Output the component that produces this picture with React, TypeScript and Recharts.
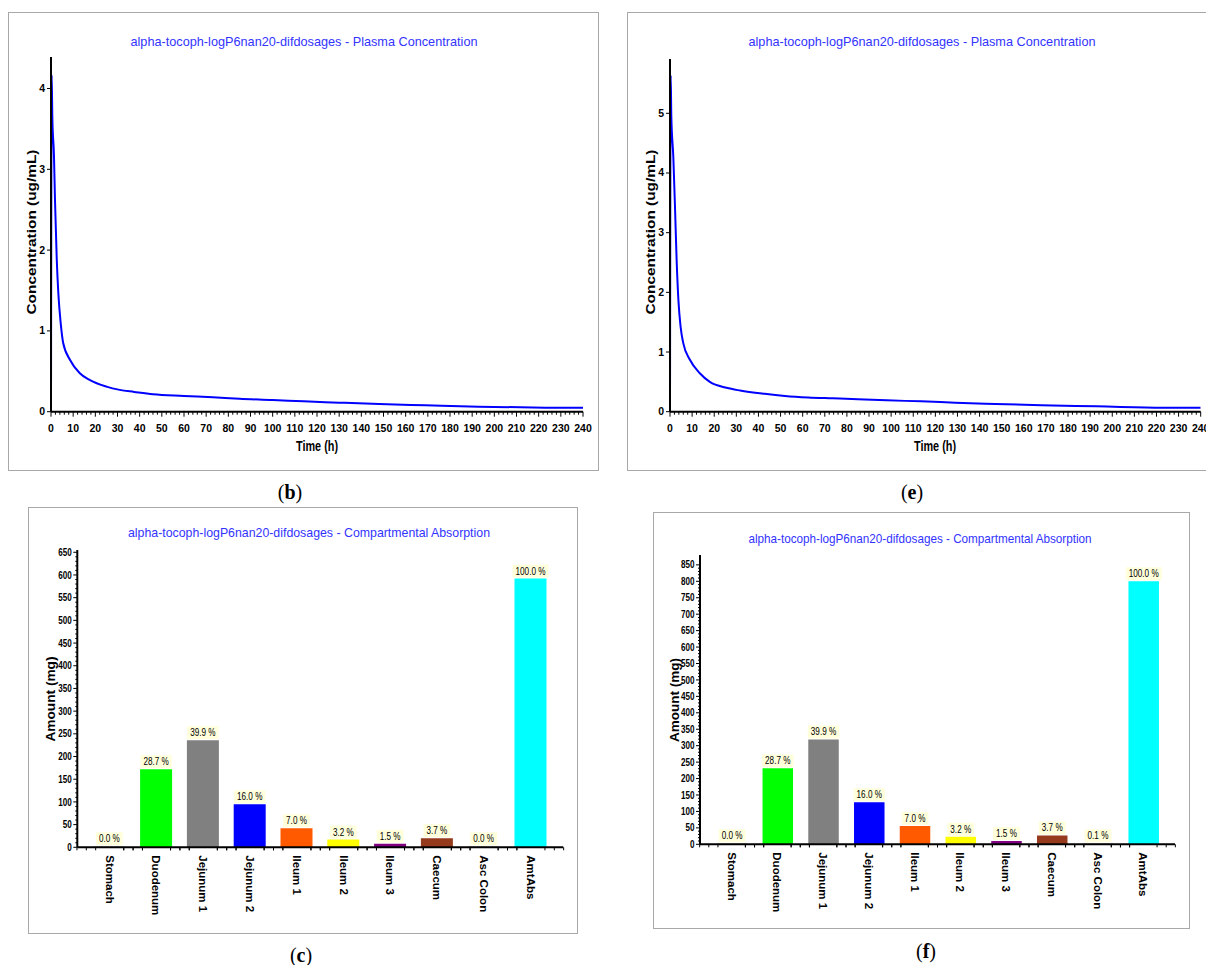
import React from 'react';
import { LineChart, Line, XAxis, YAxis, BarChart, Bar, Cell, LabelList } from 'recharts';

const FONT = '"Liberation Sans", Arial, Helvetica, sans-serif';
const SERIF = '"Liberation Serif", "DejaVu Serif", serif';

// ---------- Plasma concentration (b) ----------
const TIME_B = [0, 0.3, 0.6, 1.35, 1.8, 2.6, 3.3, 4.4, 5.5, 8.6, 13, 17.6, 25, 31, 37.5, 46, 60, 73, 85, 100, 114, 130, 148, 169, 193, 223, 240];
const CONC_B = [0, 4.17, 3.65, 3.16, 2.62, 1.88, 1.47, 1.09, 0.85, 0.64, 0.475, 0.39, 0.31, 0.27, 0.245, 0.215, 0.195, 0.178, 0.16, 0.145, 0.128, 0.112, 0.095, 0.079, 0.062, 0.05, 0.048];

// ---------- Plasma concentration (e) ----------
const TIME_E = [0, 0.3, 0.6, 1.5, 2.3, 3.0, 3.8, 4.8, 6, 9, 13.6, 18, 25.6, 31.7, 42.8, 52, 62.5, 73.5, 85, 98, 113.6, 129, 147, 168, 193, 223, 240];
const CONC_E = [0, 5.64, 4.94, 4.27, 3.38, 2.54, 1.87, 1.42, 1.15, 0.87, 0.64, 0.50, 0.40, 0.355, 0.30, 0.265, 0.24, 0.225, 0.21, 0.19, 0.174, 0.152, 0.13, 0.107, 0.09, 0.067, 0.065];

const TIME_MAJOR_TICKS = [0, 10, 20, 30, 40, 50, 60, 70, 80, 90, 100, 110, 120, 130, 140, 150, 160, 170, 180, 190, 200, 210, 220, 230, 240];
const TIME_MINOR_STEP = 2;
const CONC_TICKS_B = [0, 1, 2, 3, 4];
const CONC_TICKS_E = [0, 1, 2, 3, 4, 5];

// ---------- Compartmental absorption (c, f) ----------
const CATEGORIES = ['Stomach', 'Duodenum', 'Jejunum 1', 'Jejunum 2', 'Ileum 1', 'Ileum 2', 'Ileum 3', 'Caecum', 'Asc Colon', 'AmtAbs'];
const AMOUNT_C = [0, 172, 236, 95, 42, 17, 8, 20, 0, 592];
const PCT_C = ['0.0 %', '28.7 %', '39.9 %', '16.0 %', '7.0 %', '3.2 %', '1.5 %', '3.7 %', '0.0 %', '100.0 %'];
const AMOUNT_F = [0, 231, 319, 128, 56, 23, 10, 27, 1, 800];
const PCT_F = ['0.0 %', '28.7 %', '39.9 %', '16.0 %', '7.0 %', '3.2 %', '1.5 %', '3.7 %', '0.1 %', '100.0 %'];
const BAR_COLORS = ['#c0c0c0', '#00ff00', '#808080', '#0000ff', '#ff5a00', '#ffff00', '#800080', '#963a1e', '#c0c0c0', '#00ffff'];
const AMOUNT_MAJOR_STEP = 50;
const AMOUNT_MINOR_STEP = 10;

const TITLE_PLASMA = 'alpha-tocoph-logP6nan20-difdosages - Plasma Concentration';
const TITLE_ABS = 'alpha-tocoph-logP6nan20-difdosages - Compartmental Absorption';

const range = (max: number, step: number) => {
  const out: number[] = [];
  for (let v = 0; v <= max + 1e-9; v += step) out.push(Math.round(v * 100) / 100);
  return out;
};

const TimeTick = (props: any) => {
  const { x, y, payload } = props;
  const v = payload.value;
  const major = TIME_MAJOR_TICKS.includes(v);
  return (
    <g>
      <line x1={x} x2={x} y1={y} y2={y + (major ? 5 : 3)} stroke="#000" strokeWidth={1} />
      {major && (
        <text x={x} y={y + 20} textAnchor="middle" fontSize={10.5} fontWeight="bold" fontFamily={FONT} fill="#000">
          {v}
        </text>
      )}
    </g>
  );
};

const ConcTick = (props: any) => {
  const { x, y, payload } = props;
  return (
    <g>
      <line x1={x - 4} x2={x} y1={y} y2={y} stroke="#000" strokeWidth={1} />
      <text x={x - 6} y={y + 3.5} textAnchor="end" fontSize={10.5} fontWeight="bold" fontFamily={FONT} fill="#000">
        {payload.value}
      </text>
    </g>
  );
};

type PlasmaProps = {
  left: number; top: number; width: number; height: number;
  plotLeft: number; plotRight: number; plotTop: number; plotBottom: number;
  yMax: number; yTicks: number[]; times: number[]; conc: number[];
};

const PlasmaChart = (p: PlasmaProps) => {
  const data = p.times.map((t, i) => ({ t, c: p.conc[i] }));
  const ticks = range(240, TIME_MINOR_STEP);
  return (
    <div style={{ position: 'absolute', left: p.left, top: p.top, width: p.width, height: p.height }}>
      <LineChart
        width={p.width}
        height={p.height}
        data={data}
        margin={{ top: p.plotTop - p.top, right: p.left + p.width - p.plotRight, left: 0, bottom: 0 }}
      >
        <XAxis
          dataKey="t"
          type="number"
          domain={[0, 240]}
          ticks={ticks}
          interval={0}
          height={p.top + p.height - p.plotBottom}
          tickSize={0}
          tickMargin={0}
          tickLine={false}
          tick={<TimeTick />}
          axisLine={{ stroke: '#000', strokeWidth: 2 }}
          allowDataOverflow
        />
        <YAxis
          type="number"
          domain={[0, p.yMax]}
          ticks={p.yTicks}
          interval={0}
          width={p.plotLeft - p.left}
          tickSize={0}
          tickMargin={0}
          tickLine={false}
          tick={<ConcTick />}
          axisLine={{ stroke: '#000', strokeWidth: 2 }}
          allowDataOverflow
        />
        <Line type="monotone" dataKey="c" stroke="#0000ff" strokeWidth={2} dot={false} isAnimationActive={false} />
      </LineChart>
    </div>
  );
};

const labelTextWidth = (s: string) => {
  let w = 0;
  for (const ch of s) {
    if (ch >= '0' && ch <= '9') w += 4.6;
    else if (ch === '%') w += 7;
    else w += 2.3;
  }
  return w;
};

const PctLabel = (props: any) => {
  const { x, y, width, height, value } = props;
  const s = String(value);
  const tw = labelTextWidth(s);
  const bw = tw + 6;
  const cx = x + width / 2;
  const top = Math.min(y, y + height);
  const bottom = top - 1;
  return (
    <g>
      <rect x={cx - bw / 2} y={bottom - 13} width={bw} height={13} fill="#ffffdc" />
      <text
        x={cx}
        y={bottom - 3}
        textAnchor="middle"
        fontSize={11}
        fontFamily={FONT}
        fill="#000"
        textLength={tw}
        lengthAdjust="spacingAndGlyphs"
      >
        {s}
      </text>
    </g>
  );
};

const makeCatTick = (band: number) => (props: any) => {
  const { x, y, payload } = props;
  const offs = [-0.7, -0.5, -0.3, 0.3, 0.5, 0.7];
  return (
    <g>
      {offs.map((o) => (
        <line key={o} x1={x + o * band} x2={x + o * band} y1={y} y2={y + 3} stroke="#000" strokeWidth={1} />
      ))}
      <text
        x={x}
        y={y + 8}
        dy="0.35em"
        transform={`rotate(90, ${x}, ${y + 8})`}
        textAnchor="start"
        fontSize={11.5}
        fontWeight="bold"
        fontFamily={FONT}
        fill="#000"
      >
        {payload.value}
      </text>
    </g>
  );
};

const AmountTick = (props: any) => {
  const { x, y, payload } = props;
  const v = payload.value;
  const major = Math.abs(v % AMOUNT_MAJOR_STEP) < 1e-6;
  const s = String(v);
  return (
    <g>
      <line x1={x - (major ? 4 : 2)} x2={x} y1={y} y2={y} stroke="#000" strokeWidth={1} />
      {major && (
        <text
          x={x - 5.5}
          y={y + 3.6}
          textAnchor="end"
          fontSize={10.5}
          fontWeight="bold"
          fontFamily={FONT}
          fill="#000"
          textLength={s.length * 4.5}
          lengthAdjust="spacingAndGlyphs"
        >
          {s}
        </text>
      )}
    </g>
  );
};

type AbsProps = {
  left: number; top: number; width: number; height: number;
  plotLeft: number; plotRight: number; plotTop: number; plotBottom: number;
  yMax: number; yTickMax: number; amounts: number[]; pcts: string[]; pad: number; barSize: number;
};

const AbsChart = (p: AbsProps) => {
  const data = CATEGORIES.map((name, i) => ({ name, amount: p.amounts[i], pct: p.pcts[i] }));
  const band = (p.plotRight - p.plotLeft - 2 * p.pad) / CATEGORIES.length;
  const CatTick = makeCatTick(band);
  return (
    <div style={{ position: 'absolute', left: p.left, top: p.top, width: p.width, height: p.height }}>
      <BarChart
        width={p.width}
        height={p.height}
        data={data}
        margin={{ top: p.plotTop - p.top, right: p.left + p.width - p.plotRight, left: 0, bottom: 0 }}
      >
        <XAxis
          dataKey="name"
          type="category"
          interval={0}
          padding={{ left: p.pad, right: p.pad }}
          height={p.top + p.height - p.plotBottom}
          tickSize={0}
          tickMargin={0}
          tickLine={false}
          tick={<CatTick />}
          axisLine={false}
        />
        <YAxis
          type="number"
          domain={[0, p.yMax]}
          ticks={range(p.yTickMax, AMOUNT_MINOR_STEP)}
          interval={0}
          width={p.plotLeft - p.left}
          tickSize={0}
          tickMargin={0}
          tickLine={false}
          tick={<AmountTick />}
          axisLine={{ stroke: '#000', strokeWidth: 2 }}
          allowDataOverflow
        />
        <Bar dataKey="amount" barSize={p.barSize} minPointSize={1} isAnimationActive={false}>
          {data.map((d, i) => (
            <Cell key={d.name} fill={BAR_COLORS[i]} />
          ))}
          <LabelList dataKey="pct" content={<PctLabel />} />
        </Bar>
      </BarChart>
    </div>
  );
};

const Frame = ({ l, t, r, b }: { l: number; t: number; r: number; b: number }) => (
  <div
    style={{
      position: 'absolute',
      left: l,
      top: t,
      width: r - l,
      height: b - t,
      border: '1px solid #a8a8a8',
      boxSizing: 'border-box',
      background: '#fff',
    }}
  />
);

const Title = ({ x, y, len, text }: { x: number; y: number; len: number; text: string }) => (
  <text x={x} y={y} textAnchor="middle" fontSize={13} fontFamily={FONT} fill="#3333ff" textLength={len} lengthAdjust="spacingAndGlyphs">
    {text}
  </text>
);

const VLabel = ({ cx, cy, len, text, size }: { cx: number; cy: number; len: number; text: string; size: number }) => (
  <text
    x={cx}
    y={cy}
    dy="0.35em"
    transform={`rotate(-90, ${cx}, ${cy})`}
    textAnchor="middle"
    fontSize={size}
    fontWeight="bold"
    fontFamily={FONT}
    fill="#000"
    textLength={len}
    lengthAdjust="spacingAndGlyphs"
  >
    {text}
  </text>
);

const Caption = ({ x, y, letter }: { x: number; y: number; letter: string }) => (
  <text x={x} y={y} textAnchor="middle" fontSize={20} fontFamily={SERIF} fill="#000">
    (<tspan fontWeight="bold">{letter}</tspan>)
  </text>
);

// x-axis lines of the bar charts, drawn on top so that zero bars sit under them
const BAR_AXES = [
  { x1: 77.3, x2: 563.3, y: 847.3 },
  { x1: 700, x2: 1175, y: 844.3 },
];

export default function App() {
  return (
    <div style={{ position: 'absolute', left: 0, top: 0, width: 1206, height: 965, overflow: 'hidden', background: '#fff' }}>
      <Frame l={8} t={12} r={599} b={471} />
      <Frame l={627} t={12} r={1215} b={471} />
      <Frame l={28} t={507} r={578} b={934} />
      <Frame l={653} t={512} r={1190} b={929} />

      <PlasmaChart
        left={0} top={0} width={600} height={470}
        plotLeft={51} plotRight={583} plotTop={57} plotBottom={411.7}
        yMax={4.39} yTicks={CONC_TICKS_B} times={TIME_B} conc={CONC_B}
      />
      <PlasmaChart
        left={620} top={0} width={586} height={470}
        plotLeft={670} plotRight={1200.7} plotTop={59} plotBottom={411.7}
        yMax={5.91} yTicks={CONC_TICKS_E} times={TIME_E} conc={CONC_E}
      />
      <AbsChart
        left={28} top={507} width={550} height={427}
        plotLeft={77.3} plotRight={563.3} plotTop={550} plotBottom={847.3}
        yMax={655} yTickMax={650} amounts={AMOUNT_C} pcts={PCT_C} pad={9} barSize={32}
      />
      <AbsChart
        left={653} top={512} width={537} height={417}
        plotLeft={700} plotRight={1175} plotTop={555} plotBottom={844.3}
        yMax={880} yTickMax={850} amounts={AMOUNT_F} pcts={PCT_F} pad={8.8} barSize={30.5}
      />

      <svg width={1206} height={965} style={{ position: 'absolute', left: 0, top: 0, pointerEvents: 'none' }}>
        {BAR_AXES.map((a, i) => (
          <line key={i} x1={a.x1} x2={a.x2} y1={a.y} y2={a.y} stroke="#000" strokeWidth={2} />
        ))}
        <Title x={304} y={46} len={347} text={TITLE_PLASMA} />
        <Title x={922} y={46} len={347} text={TITLE_PLASMA} />
        <Title x={309} y={536.5} len={362} text={TITLE_ABS} />
        <Title x={920} y={542.5} len={343} text={TITLE_ABS} />

        <text x={317} y={451} textAnchor="middle" fontSize={14} fontWeight="bold" fontFamily={FONT} fill="#000" textLength={42} lengthAdjust="spacingAndGlyphs">Time (h)</text>
        <text x={935} y={451} textAnchor="middle" fontSize={14} fontWeight="bold" fontFamily={FONT} fill="#000" textLength={42} lengthAdjust="spacingAndGlyphs">Time (h)</text>

        <VLabel cx={32} cy={232} len={165} text="Concentration (ug/mL)" size={12} />
        <VLabel cx={651} cy={232} len={165} text="Concentration (ug/mL)" size={12} />
        <VLabel cx={50.7} cy={699} len={85} text="Amount (mg)" size={12.5} />
        <VLabel cx={675} cy={700} len={84} text="Amount (mg)" size={12.5} />

        <Caption x={290} y={499} letter="b" />
        <Caption x={912} y={499} letter="e" />
        <Caption x={301} y={962} letter="c" />
        <Caption x={926} y={958} letter="f" />
      </svg>
    </div>
  );
}
